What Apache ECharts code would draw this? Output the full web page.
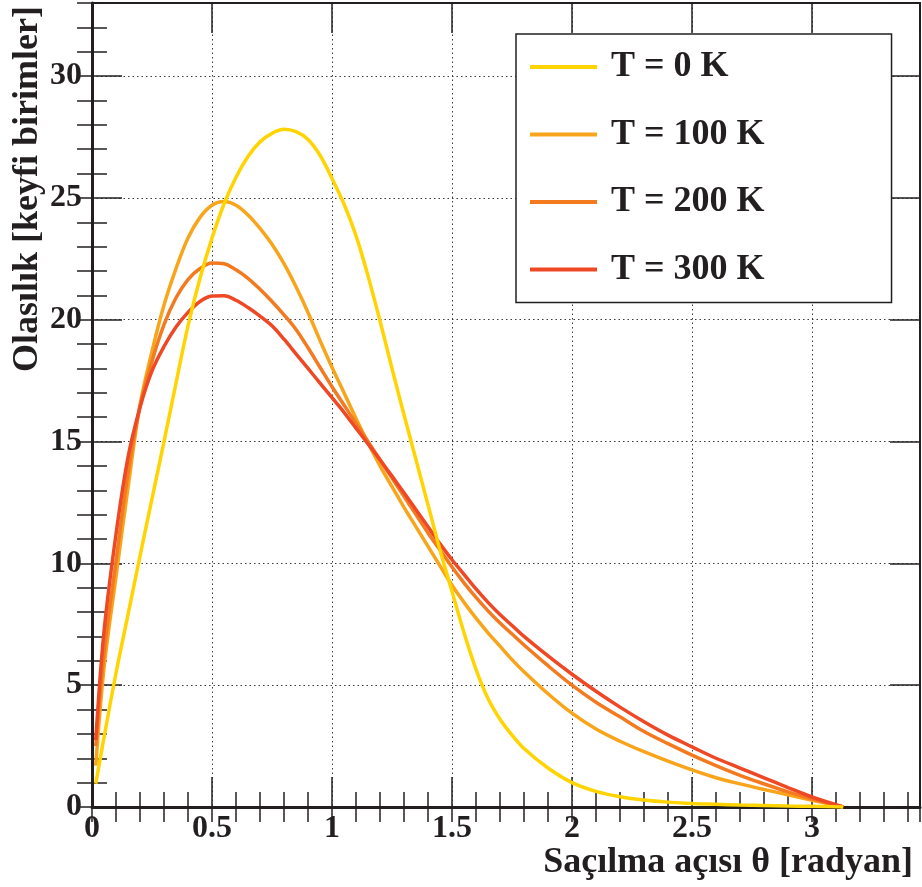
<!DOCTYPE html>
<html><head><meta charset="utf-8">
<script src="https://cdn.jsdelivr.net/npm/echarts@6/dist/echarts.min.js"></script>
<style>html,body{margin:0;padding:0;background:#fff}#c{width:922px;height:887px}</style>
</head><body><div id="c"></div>
<script>
// Scattering angle theta [rad]
const theta = [0.0157, 0.05, 0.1, 0.15, 0.2, 0.25, 0.3, 0.35, 0.4, 0.45, 0.5, 0.55, 0.6, 0.65, 0.7, 0.75, 0.8, 0.85, 0.9, 0.95,
  1.0, 1.05, 1.1, 1.15, 1.2, 1.25, 1.3, 1.35, 1.4, 1.45, 1.5, 1.55, 1.6, 1.65, 1.7, 1.75, 1.8, 1.9, 2.0, 2.1,
  2.2, 2.3, 2.4, 2.5, 2.6, 2.7, 2.8, 2.9, 3.0, 3.13];
const probT0 = [0.96, 2.85, 5.5, 7.9, 10.3, 12.65, 15.0, 17.4, 19.75, 21.7, 23.35, 24.75, 25.85, 26.7, 27.3, 27.65, 27.82, 27.72, 27.4, 26.75,
  25.8, 24.75, 23.45, 21.8, 19.95, 18.0, 16.1, 14.25, 12.4, 10.55, 8.85, 7.15, 5.65, 4.45, 3.6, 2.95, 2.4, 1.6, 1.0, 0.64,
  0.42, 0.29, 0.2, 0.14, 0.11, 0.08, 0.06, 0.04, 0.03, 0.0];
const probT100 = [1.7, 5.7, 9.45, 13.1, 16.5, 18.7, 20.6, 22.1, 23.35, 24.2, 24.7, 24.85, 24.7, 24.3, 23.75, 23.1, 22.3, 21.35, 20.3, 19.15,
  18.05, 17.0, 15.95, 14.95, 14.0, 13.15, 12.3, 11.5, 10.7, 9.9, 9.1, 8.4, 7.75, 7.15, 6.6, 6.05, 5.55, 4.65, 3.85, 3.2,
  2.7, 2.27, 1.88, 1.52, 1.2, 0.95, 0.72, 0.5, 0.28, 0.0];
const probT200 = [2.5, 6.3, 10.1, 13.7, 16.45, 18.3, 19.8, 20.9, 21.65, 22.1, 22.33, 22.3, 22.05, 21.7, 21.25, 20.75, 20.2, 19.6, 18.85, 18.05,
  17.25, 16.5, 15.75, 15.0, 14.25, 13.5, 12.75, 12.0, 11.25, 10.55, 9.85, 9.2, 8.6, 8.05, 7.55, 7.1, 6.65, 5.8, 5.0, 4.3,
  3.7, 3.1, 2.6, 2.13, 1.7, 1.3, 0.95, 0.62, 0.33, 0.0];
const probT300 = [2.75, 7.2, 11.2, 14.35, 16.4, 17.9, 18.9, 19.7, 20.3, 20.75, 20.97, 20.98, 20.8, 20.5, 20.15, 19.75, 19.2, 18.6, 18.0, 17.4,
  16.8, 16.2, 15.55, 14.9, 14.25, 13.58, 12.9, 12.2, 11.5, 10.8, 10.15, 9.55, 8.95, 8.4, 7.9, 7.45, 7.0, 6.2, 5.45, 4.75,
  4.1, 3.5, 2.95, 2.47, 2.0, 1.6, 1.2, 0.8, 0.41, 0.0];
const seriesNames = ['T = 0 K', 'T = 100 K', 'T = 200 K', 'T = 300 K'];
const xTitle = 'Saçılma açısı θ [radyan]';
const yTitle = 'Olasılık [keyfi birimler]';

const FONT = 'Liberation Serif';
const INK = '#231f20';
const COLORS = ['#FFD400', '#F8A51B', '#F47A20', '#EE4824'];
const X_MIN = 0, X_MAX = 3.45, Y_MIN = 0, Y_MAX = 33;

const gridLine = { show: true, lineStyle: { color: '#3a3a3a', width: 1, type: [1.5, 3] } };
const labelStyle = { fontFamily: FONT, fontWeight: 'bold', fontSize: 32, color: INK };
const tickStyle = { color: INK, width: 1.5 };

function axis(pos, interval, tickLen, opts) {
  const isX = pos === 'bottom' || pos === 'top';
  return Object.assign({
    type: 'value', position: pos, min: isX ? X_MIN : Y_MIN, max: isX ? X_MAX : Y_MAX, interval: interval,
    axisLine: { show: false },
    axisTick: { show: true, inside: true, length: tickLen, lineStyle: tickStyle },
    axisLabel: { show: false },
    splitLine: { show: false }
  }, opts || {});
}

const chart = echarts.init(document.getElementById('c'), null, { renderer: 'canvas' });
const series = [probT0, probT100, probT200, probT300].map((arr, k) => ({
  type: 'line', name: seriesNames[k],
  data: theta.map((t, i) => [t, arr[i]]),
  xAxisIndex: 0, yAxisIndex: 0,
  symbol: 'none', showSymbol: false,
  smooth: 0.35,
  lineStyle: { color: COLORS[k], width: 3.5 },
  itemStyle: { color: COLORS[k] },
  z: k === 0 ? 6 : 3 + k * 0.1
}));

chart.setOption({
  animation: false,
  backgroundColor: '#ffffff',
  grid: { left: 92, right: 2, top: 3, bottom: 80, containLabel: false },
  xAxis: [
    axis('bottom', 0.5, 30, {
      axisLine: { show: true, onZero: false, lineStyle: { color: INK, width: 3 } },
      axisLabel: Object.assign({ show: true, margin: 6, showMaxLabel: false }, labelStyle),
      splitLine: gridLine,
      name: xTitle, nameLocation: 'end', nameGap: -7, nameMoveOverlap: false,
      nameTextStyle: { fontFamily: FONT, fontWeight: 'bold', fontSize: 36, color: INK,
        align: 'right', verticalAlign: 'top', lineHeight: 36, padding: [38, 0, 0, 0] }
    }),
    axis('bottom', 0.1, 15),
    axis('top', 0.5, 30, { axisLine: { show: true, onZero: false, lineStyle: { color: INK, width: 2 } } }),
    axis('top', 0.1, 15)
  ],
  yAxis: [
    axis('left', 5, 30, {
      axisLine: { show: true, onZero: false, lineStyle: { color: INK, width: 3 } },
      axisLabel: Object.assign({ show: true, margin: 10, showMaxLabel: false }, labelStyle),
      splitLine: gridLine,
      name: yTitle, nameLocation: 'end', nameGap: -3, nameRotate: 90, nameMoveOverlap: false,
      nameTextStyle: { fontFamily: FONT, fontWeight: 'bold', fontSize: 36, color: INK,
        align: 'right', verticalAlign: 'bottom', lineHeight: 36, padding: [0, 0, 46, 0] }
    }),
    axis('left', 1, 15),
    axis('right', 5, 30, { axisLine: { show: true, onZero: false, lineStyle: { color: INK, width: 2 } } }),
    axis('right', 1, 15)
  ],
  legend: {
    data: seriesNames, orient: 'vertical', left: 516, top: 34,
    padding: [15, 127, 15, 14], itemGap: 31.5, itemWidth: 67, itemHeight: 4, icon: 'rect',
    backgroundColor: '#ffffff', borderColor: INK, borderWidth: 1.5, borderRadius: 0,
    selectedMode: false,
    textStyle: { fontFamily: FONT, fontWeight: 'bold', fontSize: 36, color: INK, lineHeight: 36, padding: [0, 0, 0, 9] }
  },
  series: series
});
</script></body></html>
